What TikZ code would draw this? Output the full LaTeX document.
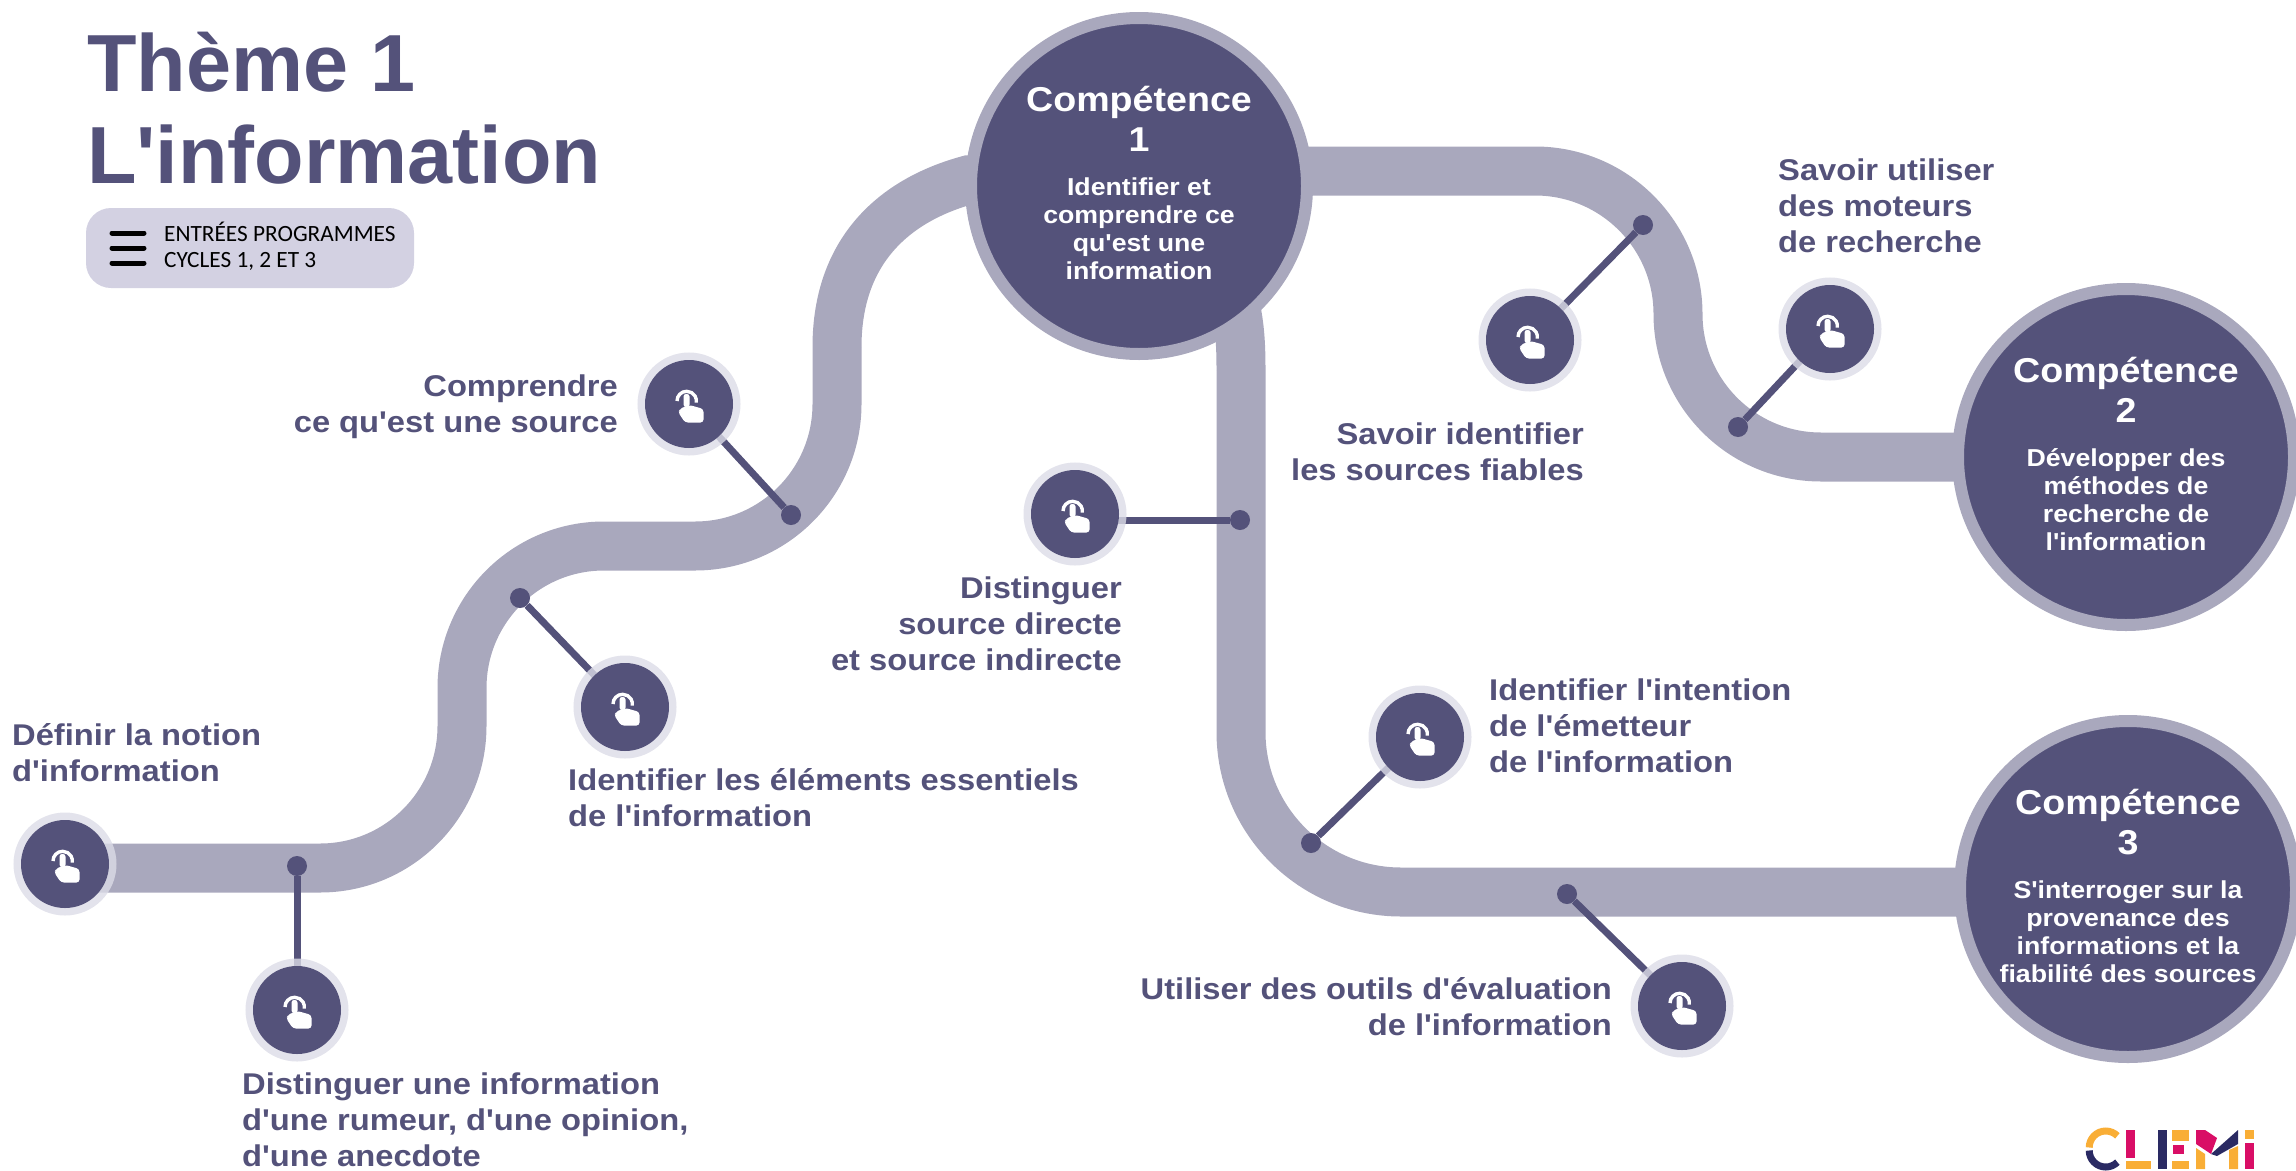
\documentclass[tikz,border=0pt]{standalone}
\usepackage{fontspec}
\setmainfont[Ligatures=TeXOff,FakeStretch=1.09]{Liberation Sans}
\newfontfamily\titlefont[Ligatures=TeXOff]{Liberation Sans}
\newfontfamily\pillfont{Carlito}
\usetikzlibrary{backgrounds}
\definecolor{dark}{HTML}{54527A}
\definecolor{roadc}{HTML}{A9A8BD}
\definecolor{ringc}{HTML}{DCDCE7}
\definecolor{pillc}{HTML}{D3D1E2}
\definecolor{logoo}{HTML}{F9AE36}
\definecolor{logom}{HTML}{D90E66}
\definecolor{logon}{HTML}{2A2A63}
\tikzset{
	road/.style={draw=roadc,line width=49pt,rounded corners=#1},
	link/.style={draw=dark,line width=7pt},
	dot/.style={circle,fill=dark,minimum size=20pt,inner sep=0pt},
	comp/.style={circle,fill=dark,draw=roadc,line width=12pt,minimum size=336pt,inner sep=0pt,text=white,align=center,text depth=6pt,font=\bfseries\fontsize{24.5}{28}\selectfont},
	icon/.style={circle,fill=dark,minimum size=88pt,inner sep=0pt,
		preaction={draw=ringc,draw opacity=.8,line width=15pt},
		path picture={
			\begin{scope}[shift={(path picture bounding box.center)}]
				\draw[white,line width=3.4pt] (-12,-3) arc[start angle=180,end angle=370,radius=9.7];
				\fill[white,rounded corners=2.5pt] (-5.5,3) -- (-5.5,-10) -- (0.5,-10) -- (0.5,3) -- cycle;
				\fill[white,rounded corners=3pt] (-5.5,3) -- (0.5,1) -- (14.5,5) -- (14.5,18.5) -- (-4,18.5) -- (-11,8) -- (-8.5,5) -- cycle;
			\end{scope}
		}},
	lbl/.style={text=dark,font=\bfseries\fontsize{30}{36}\selectfont,inner sep=0pt},
	lbll/.style={lbl,align=left,anchor=west},
	lblr/.style={lbl,align=right,anchor=east}
}
\newcommand{\comphead}[1]{\fontsize{34.5}{39}\selectfont Compétence\\[7.5pt]\fontsize{34.5}{39}\selectfont #1\\[16.5pt]}

\begin{document}
\begin{tikzpicture}[x=1pt,y=-1pt]
	\useasboundingbox (0,0) rectangle (2296,1170);

	\node[text=dark,font=\titlefont\bfseries\fontsize{81}{92}\selectfont,align=left,anchor=base west,inner sep=0pt] (title) at (87,183) {Thème 1\\L'information};
	\node[fill=pillc,rounded corners=25pt,minimum width=328pt,minimum height=80pt,inner sep=0pt] (pill) at (250,248) {};
	\node[anchor=west,align=left,inner sep=0pt,font=\pillfont\fontsize{23.3}{26}\selectfont] (prog) at (164,246) {ENTRÉES PROGRAMMES\\CYCLES 1, 2 ET 3};
	\draw[line width=5pt,line cap=round] (112,233) -- (144,233) (112,248) -- (144,248) (112,263) -- (144,263);

	\node[comp] (c1) at (1139,186) {\comphead{1}Identifier et\\comprendre ce\\qu'est une\\information};
	\node[comp] (c2) at (2126,457) {\comphead{2}Développer des\\méthodes de\\recherche de\\l'information};
	\node[comp] (c3) at (2128,889) {\comphead{3}S'interroger sur la\\provenance des\\informations et la\\fiabilité des sources};

	\node[icon] (i1) at (65,864) {};
	\node[icon] (i2) at (297,1010) {};
	\node[icon] (i3) at (625,707) {};
	\node[icon] (i4) at (689,404) {};
	\node[icon] (i5) at (1075,514) {};
	\node[icon] (i6) at (1530,340) {};
	\node[icon] (i7) at (1830,329) {};
	\node[icon] (i8) at (1420,737) {};
	\node[icon] (i9) at (1682,1006) {};

	\node[dot] (d2) at (297,866) {};
	\node[dot] (d3) at (520,598) {};
	\node[dot] (d4) at (791,515) {};
	\node[dot] (d5) at (1240,520) {};
	\node[dot] (d6) at (1643,225) {};
	\node[dot] (d7) at (1738,427) {};
	\node[dot] (d8) at (1311,843) {};
	\node[dot] (d9) at (1567,894) {};

	\coordinate (r1) at (837,347);
	\coordinate (r1b) at (968,180);
	\coordinate (r2) at (1139,171);
	\coordinate (r3) at (1241,370);

	\begin{scope}[on background layer]
		\draw[road=142pt] (i1.center |- 0,868) -- (462,868) -- (462,546) -- (837,546) -- (r1);
		\draw[draw=roadc,line width=49pt] (r1) .. controls (837,250) and (895,200) .. (r1b) -- (c1.center);
		\draw[road=143pt] (r2) -- (1678,171) -- (1678,457) -- (c2.center);
		\draw[draw=roadc,line width=49pt] (c1.center) .. controls (1232,250) and (1241,300) .. (r3);
		\draw[road=160pt] (r3) -- (1241,892) -- (c3.center |- 0,892) -- (c3.center);
		\foreach \n in {2,3,4,6,7,8,9}
			\draw[link] (i\n) -- (d\n);
		\draw[link] (i5 |- d5) -- (d5);
	\end{scope}

	\node[lbll] (t1) at (12,753) {Définir la notion\\d'information};
	\node[lbll] (t2) at (242,1120) {Distinguer une information\\d'une rumeur, d'une opinion,\\d'une anecdote};
	\node[lbll] (t3) at (568,798) {Identifier les éléments essentiels\\de l'information};
	\node[lblr] (t4) at (618,407) {Comprendre\\ce qu'est une source};
	\node[lblr] (t5) at (1122,624) {Distinguer\\source directe\\et source indirecte};
	\node[lblr] (t6) at (1584,452) {Savoir identifier\\les sources fiables};
	\node[lbll] (t7) at (1778,206) {Savoir utiliser\\des moteurs\\de recherche};
	\node[lbll] (t8) at (1489,726) {Identifier l'intention\\de l'émetteur\\de l'information};
	\node[lblr] (t9) at (1612,1007) {Utiliser des outils d'évaluation\\de l'information};

	% logo
	\draw[logoo,line width=7pt] (2089.2,1147.5) arc[start angle=180,end angle=315,radius=16.5];
	\draw[logon,line width=7pt] (2089.2,1150.5) arc[start angle=180,end angle=45,radius=16.5];
	\fill[logom] (2126,1130) rectangle (2135,1158);
	\fill[logoo] (2126,1161) rectangle (2151,1169);
	\fill[logon] (2158,1130) rectangle (2167,1169);
	\fill[logoo] (2172,1130) rectangle (2189,1141);
	\fill[logom] (2173,1145) rectangle (2184,1154);
	\fill[logoo] (2172,1161) rectangle (2189,1169);
	\fill[logom] (2196,1130) -- (2205,1130) -- (2217,1138) -- (2211,1154) -- (2196,1144) -- cycle;
	\fill[logon] (2211,1154) -- (2238,1130) -- (2238,1144) -- (2217,1156) -- cycle;
	\fill[logoo] (2196,1148) -- (2205,1154) -- (2205,1169) -- (2196,1169) -- cycle;
	\fill[logoo] (2229,1150) -- (2238,1146) -- (2238,1169) -- (2229,1169) -- cycle;
	\fill[logoo] (2245,1130) rectangle (2254,1139);
	\fill[logom] (2245,1143) rectangle (2254,1169);
\end{tikzpicture}
\end{document}
